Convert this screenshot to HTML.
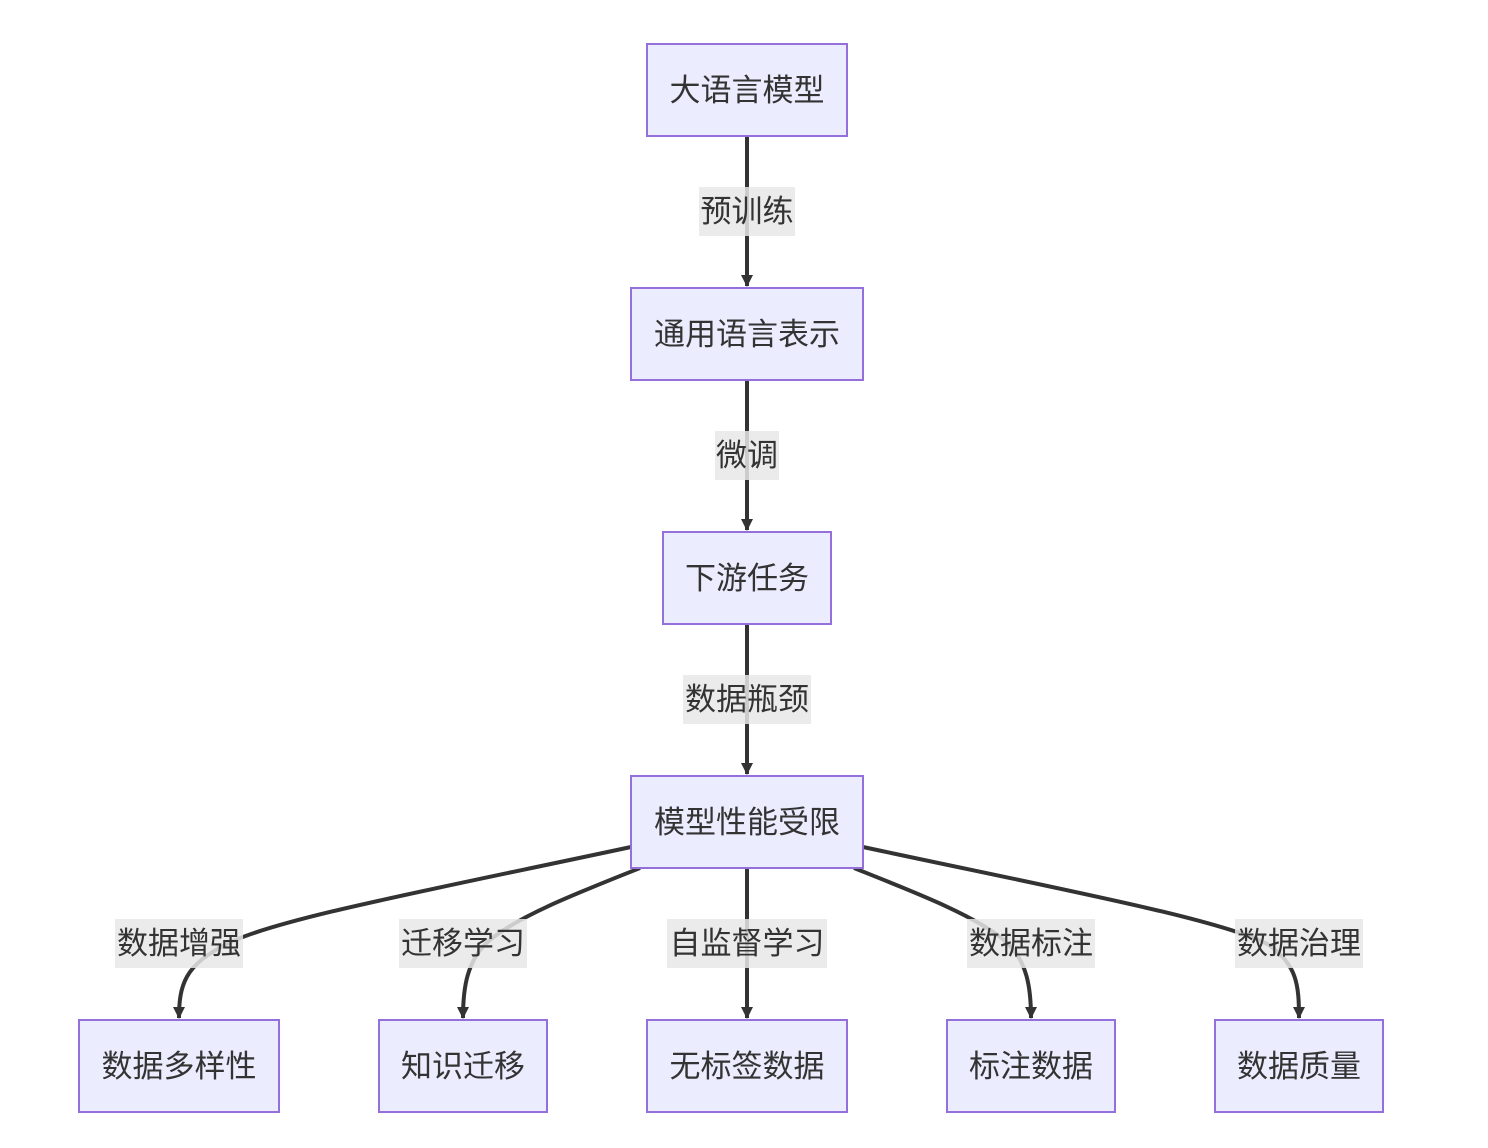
<!DOCTYPE html>
<html><head><meta charset="utf-8"><style>
html,body{margin:0;padding:0;background:#fff;}
svg{display:block;}
text{font-family:"Liberation Sans","Noto Sans CJK SC",sans-serif;font-size:31px;fill:#333;}
</style></head><body>
<svg width="1488" height="1148" viewBox="0 0 1488 1148" xmlns="http://www.w3.org/2000/svg">
<defs>
<marker id="a" viewBox="0 0 12 12" refX="11" refY="6" markerWidth="12" markerHeight="12" markerUnits="userSpaceOnUse" orient="auto">
<path d="M0,0 L12,6 L0,12 z" fill="#333"/>
</marker>
</defs>
<g fill="none" stroke="#333" stroke-width="4" marker-end="url(#a)">
<path d="M747,136 L747,286"/>
<path d="M747,380 L747,530"/>
<path d="M747,624 L747,774"/>
<path d="M631,847 C430,890 270,920 225,945 C185,965 179,985 179,1018"/>
<path d="M640,868 C580,892 520,915 490,940 C466,960 463,990 463,1018"/>
<path d="M747,868 L747,1018"/>
<path d="M854,868 C914,892 974,915 1004,940 C1028,960 1031,990 1031,1018"/>
<path d="M863,847 C1064,890 1224,920 1269,945 C1297,965 1299,985 1299,1018"/>
</g>
<g fill="rgba(232,232,232,0.85)">
<rect x="699" y="187" width="96" height="49"/>
<rect x="715" y="431" width="64" height="49"/>
<rect x="683" y="675" width="128" height="49"/>
<rect x="115" y="919" width="128" height="49"/>
<rect x="399" y="919" width="128" height="49"/>
<rect x="667" y="919" width="160" height="49"/>
<rect x="967" y="919" width="128" height="49"/>
<rect x="1235" y="919" width="128" height="49"/>
</g>
<g text-anchor="middle">
<text x="747" y="222">预训练</text>
<text x="747" y="466">微调</text>
<text x="747" y="710">数据瓶颈</text>
<text x="179" y="954">数据增强</text>
<text x="463" y="954">迁移学习</text>
<text x="747" y="954">自监督学习</text>
<text x="1031" y="954">数据标注</text>
<text x="1299" y="954">数据治理</text>
</g>
<g fill="#ECECFF" stroke="#9370DB" stroke-width="2">
<rect x="647" y="44" width="200" height="92"/>
<rect x="631" y="288" width="232" height="92"/>
<rect x="663" y="532" width="168" height="92"/>
<rect x="631" y="776" width="232" height="92"/>
<rect x="79" y="1020" width="200" height="92"/>
<rect x="379" y="1020" width="168" height="92"/>
<rect x="647" y="1020" width="200" height="92"/>
<rect x="947" y="1020" width="168" height="92"/>
<rect x="1215" y="1020" width="168" height="92"/>
</g>
<g text-anchor="middle">
<text x="747" y="101">大语言模型</text>
<text x="747" y="345">通用语言表示</text>
<text x="747" y="589">下游任务</text>
<text x="747" y="833">模型性能受限</text>
<text x="179" y="1077">数据多样性</text>
<text x="463" y="1077">知识迁移</text>
<text x="747" y="1077">无标签数据</text>
<text x="1031" y="1077">标注数据</text>
<text x="1299" y="1077">数据质量</text>
</g>
</svg>
</body></html>
